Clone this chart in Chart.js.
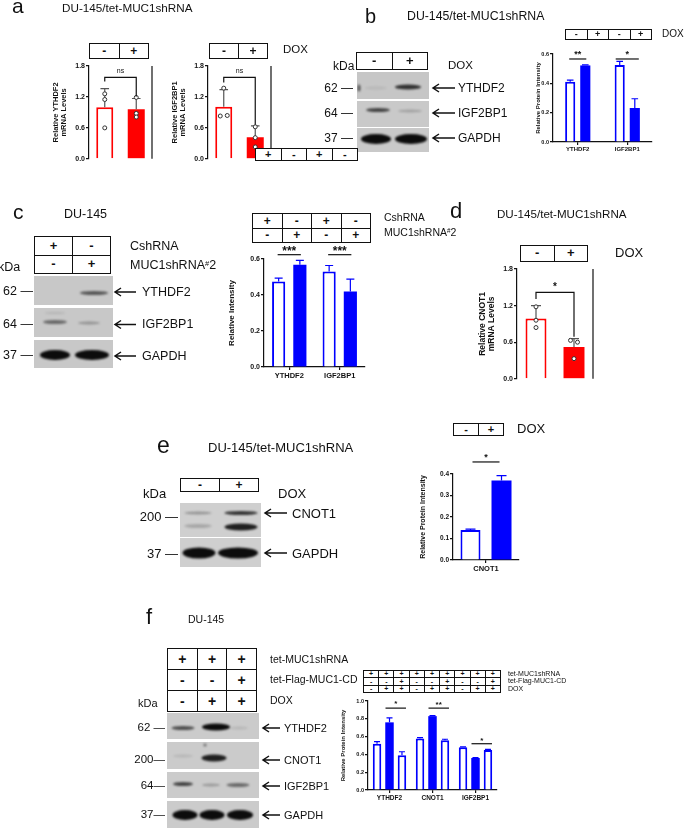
<!DOCTYPE html>
<html>
<head>
<meta charset="utf-8">
<script src="https://cdn.jsdelivr.net/npm/chart.js@4.4.0/dist/chart.umd.min.js"></script>
<style>
  body { margin: 0; background: #fff; }
  #fig { position: relative; width: 685px; height: 828px; overflow: hidden; font-family: Arial, "Liberation Sans", sans-serif; color: #111; background: #fff; }
  .t { position: absolute; white-space: nowrap; line-height: 1; }
  .t .sup { font-size: 60%; position: relative; top: -0.45em; }
  table.pm { position: absolute; border-collapse: collapse; table-layout: fixed; background: #fff; }
  table.pm td { border: 1px solid #111; text-align: center; vertical-align: middle; padding: 0; line-height: 0.5; font-weight: bold; overflow: hidden; }
</style>
</head>
<body>
<div id="fig"><canvas id="blots" width="685" height="828" style="position:absolute;left:0;top:0"></canvas></div>
<script>
// ---- data ----
const doxLabels = ['-', '+'];
const proteinLabels = ['YTHDF2', 'IGF2BP1'];
const cnot1Label = ['CNOT1'];
const fLabels = ['YTHDF2', 'CNOT1', 'IGF2BP1'];

// a: qPCR, relative mRNA (mean, SD, replicates)
const ythdf2Mrna = [1.0, 0.96];
const ythdf2MrnaSd = [0.36, 0.21];
const ythdf2MrnaPts = [[1.26, 1.15, 0.6], [1.19, 0.88, 0.81]];
const igf2bp1Mrna = [1.01, 0.42];
const igf2bp1MrnaSd = [0.33, 0.22];
const igf2bp1MrnaPts = [[1.37, 0.83, 0.84], [0.62, 0.41, 0.23]];

// b: protein, DOX - / +
const bNoDox = [0.41, 0.525];
const bNoDoxSd = [0.012, 0.025];
const bDox = [0.522, 0.232];
const bDoxSd = [0.004, 0.063];

// c: CshRNA vs MUC1shRNA#2
const cCsh = [0.475, 0.531];
const cCshSd = [0.019, 0.033];
const cMuc = [0.568, 0.419];
const cMucSd = [0.024, 0.069];

// d: CNOT1 mRNA
const cnot1Mrna = [0.99, 0.52];
const cnot1MrnaSd = [0.21, 0.14];
const cnot1MrnaPts = [[1.18, 0.96, 0.84], [0.63, 0.6, 0.33]];

// e: CNOT1 protein
const eNoDox = [0.14];
const eNoDoxSd = [0.004];
const eDox = [0.37];
const eDoxSd = [0.022];

// f: shRNA / shRNA+DOX / rescue
const fSh = [0.52, 0.58, 0.48];
const fShSd = [0.023, 0.008, 0.005];
const fShDox = [0.76, 0.83, 0.36];
const fShDoxSd = [0.05, 0.006, 0.005];
const fRescue = [0.39, 0.56, 0.45];
const fRescueSd = [0.04, 0.01, 0.006];

// condition grids
const bChartDox = [['-', '+', '-', '+']];
const aStrayRow = [['+', '-', '+', '-']];
const cConditions = [['+', '-'], ['-', '+']];
const cChartConditions = [['+', '-', '+', '-'], ['-', '+', '-', '+']];
const fConditions = [['+', '+', '+'], ['-', '-', '+'], ['-', '+', '+']];
const fChartConditions = [
  ['+', '+', '+', '+', '+', '+', '+', '+', '+'],
  ['-', '-', '+', '-', '-', '+', '-', '-', '+'],
  ['-', '+', '+', '-', '+', '+', '-', '+', '+']
];

// ---- helpers ----
const RED = '#ff0000', BLUE = '#0000ff', INK = '#111';
const FONT = "'Liberation Sans', Arial, sans-serif";
const fig = document.getElementById('fig');

function T(text, x, base, size, align, weight, html) {
  const d = document.createElement('div');
  d.className = 't';
  if (html) d.innerHTML = text; else d.textContent = text;
  d.style.fontSize = size + 'px';
  d.style.left = x + 'px';
  d.style.top = (base - 0.8465 * size) + 'px';
  if (weight) d.style.fontWeight = weight;
  if (align === 'right') d.style.transform = 'translateX(-100%)';
  if (align === 'center') d.style.transform = 'translateX(-50%)';
  fig.appendChild(d);
}

function pm(left, top, w, h, rows, size) {
  const t = document.createElement('table');
  t.className = 'pm';
  t.style.cssText += `left:${left}px;top:${top}px;width:${w}px;height:${h}px;font-size:${size}px`;
  rows.forEach(r => {
    const tr = t.insertRow();
    r.forEach(v => { const td = tr.insertCell(); td.textContent = v; td.style.height = (h / rows.length) + 'px'; });
  });
  fig.appendChild(t);
}

function jitter(vals) {
  return vals.map((v, k) => {
    const j = vals.findIndex((w, m) => m !== k && Math.abs(w - v) < 0.05);
    return j < 0 ? 0 : (k < j ? -3.5 : 3.5);
  });
}

function makeExtras(o) {
  return {
    id: 'extras',
    afterDatasetsDraw(chart) {
      const ctx = chart.ctx, y = chart.scales.y, area = chart.chartArea;
      ctx.save();
      ctx.lineCap = 'butt';
      (o.sd || []).forEach((sds, di) => {
        chart.getDatasetMeta(di).data.forEach((bar, i) => {
          const v = chart.data.datasets[di].data[i];
          const yt = y.getPixelForValue(v + sds[i]);
          ctx.strokeStyle = o.errColor; ctx.lineWidth = 1.2;
          ctx.beginPath();
          ctx.moveTo(bar.x, bar.y); ctx.lineTo(bar.x, yt);
          ctx.moveTo(bar.x - o.cap, yt); ctx.lineTo(bar.x + o.cap, yt);
          ctx.stroke();
        });
      });
      (o.pts || []).forEach((perBar, di) => {
        chart.getDatasetMeta(di).data.forEach((bar, i) => {
          const vals = perBar[i], dx = jitter(vals);
          vals.forEach((v, k) => {
            ctx.beginPath();
            ctx.arc(bar.x + dx[k], y.getPixelForValue(v), 2, 0, Math.PI * 2);
            ctx.fillStyle = '#fff'; ctx.fill();
            ctx.strokeStyle = '#333'; ctx.lineWidth = 1; ctx.stroke();
          });
        });
      });
      (o.sig || []).forEach(s => {
        const p1 = chart.getDatasetMeta(s.from[0]).data[s.from[1]];
        const p2 = chart.getDatasetMeta(s.to[0]).data[s.to[1]];
        const yl = y.getPixelForValue(s.y);
        ctx.strokeStyle = INK; ctx.lineWidth = 1.2;
        ctx.beginPath();
        if (s.legs) {
          ctx.moveTo(p1.x, y.getPixelForValue(s.legs[0]));
          ctx.lineTo(p1.x, yl); ctx.lineTo(p2.x, yl);
          ctx.lineTo(p2.x, y.getPixelForValue(s.legs[1]));
        } else {
          ctx.moveTo(p1.x - (s.ext || 1), yl); ctx.lineTo(p2.x + (s.ext || 1), yl);
        }
        ctx.stroke();
        ctx.fillStyle = INK;
        ctx.font = `${s.weight || 'bold'} ${s.size}px ${FONT}`;
        ctx.textAlign = 'center'; ctx.textBaseline = 'alphabetic';
        ctx.fillText(s.text, (p1.x + p2.x) / 2, yl - s.gap);
      });
      if (o.rightLine) {
        ctx.strokeStyle = INK; ctx.lineWidth = 1.2;
        ctx.beginPath(); ctx.moveTo(area.right, area.top); ctx.lineTo(area.right, area.bottom); ctx.stroke();
      }
      ctx.restore();
    }
  };
}

function barChart(p) {
  const padR = p.padR || 3;
  const w = p.yW + (p.r - p.l) + padR;
  const h = p.padT + (p.b - p.t) + (p.xH || p.padB);
  const c = document.createElement('canvas');
  c.width = w; c.height = h;
  c.style.cssText = `position:absolute;left:${p.l - p.yW}px;top:${p.t - p.padT}px;width:${w}px;height:${h}px`;
  fig.appendChild(c);
  new Chart(c, {
    type: 'bar',
    data: { labels: p.labels, datasets: p.datasets },
    options: {
      responsive: false, animation: false, devicePixelRatio: 1,
      layout: { padding: { top: p.padT, right: padR, bottom: p.xH ? 0 : p.padB, left: 0 } },
      datasets: { bar: { categoryPercentage: p.cat, barPercentage: p.bar } },
      plugins: { legend: { display: false }, tooltip: { enabled: false } },
      scales: {
        x: {
          display: !!p.xH, offset: true,
          grid: { offset: false, drawOnChartArea: false, tickLength: 3, color: INK, lineWidth: 1.2 },
          border: { color: INK, width: 1.2 },
          ticks: { font: { family: FONT, size: p.xFont, weight: 'bold' }, color: INK, padding: 1, maxRotation: 0, autoSkip: false },
          afterFit: s => { s.height = p.xH || 0; }
        },
        y: {
          min: 0, max: p.max,
          ticks: { stepSize: p.step, font: { family: FONT, size: p.tickFont, weight: 'bold' }, color: INK, padding: 1, callback: v => v.toFixed(1) },
          grid: { drawOnChartArea: false, tickLength: 3, color: INK, lineWidth: 1.2 },
          border: { color: INK, width: 1.2 },
          title: { display: true, text: p.title, font: { family: FONT, size: p.titleFont, weight: 'bold', lineHeight: 1.1 }, color: INK, padding: { top: p.titlePad, bottom: 0 } },
          afterFit: s => { s.width = p.yW; }
        }
      }
    },
    plugins: [makeExtras(p.extras)]
  });
}

const hollow = (data, color) => ({ data, backgroundColor: '#fff', borderColor: color, borderWidth: 2 });
const solid = (data, color) => ({ data, backgroundColor: color, borderColor: color, borderWidth: 0 });
const pair = data => ({ data, backgroundColor: ['#fff', RED], borderColor: RED, borderWidth: [2, 0] });

// ---- western blots (drawn decoration) ----
const blots = [
  // b
  { x: 357, y: 72, w: 72, h: 27, bg: '#c6c6c6', bands: [[408, 87, 26, 5, 0.8], [359, 88, 3, 7, 0.6], [376, 88, 22, 3, 0.08]] },
  { x: 357, y: 101, w: 72, h: 26, bg: '#c9c9c9', bands: [[378, 110, 24, 4, 0.7], [410, 111, 24, 3, 0.2]] },
  { x: 357, y: 128, w: 72, h: 24, bg: '#c9c9c9', bands: [[376, 139, 30, 10, 1], [411, 139, 32, 10, 1]] },
  // c
  { x: 34, y: 276, w: 79, h: 29, bg: '#c8c8c8', bands: [[94, 293, 28, 4, 0.6]] },
  { x: 34, y: 308, w: 79, h: 29, bg: '#c8c8c8', bands: [[55, 322, 24, 4, 0.5], [89, 323, 22, 3, 0.28], [55, 313, 20, 2, 0.1]] },
  { x: 34, y: 340, w: 79, h: 28, bg: '#c8c8c8', bands: [[55, 355, 30, 10, 1], [92, 355, 34, 10, 1]] },
  // e
  { x: 180, y: 503, w: 81, h: 34, bg: '#cfcfcf', bands: [[198, 513, 27, 3, 0.3], [198, 526, 27, 4, 0.2], [241, 513, 33, 4, 0.8], [241, 527, 33, 7, 0.9]] },
  { x: 180, y: 538, w: 81, h: 29, bg: '#cfcfcf', bands: [[199, 553, 33, 11, 1], [238, 553, 40, 11, 1]] },
  // f
  { x: 167, y: 713, w: 92, h: 26, bg: '#cbcbcb', bands: [[183, 728, 23, 4, 0.65], [216, 727, 28, 7, 1], [239, 728, 18, 3, 0.1]] },
  { x: 167, y: 742, w: 92, h: 27, bg: '#cbcbcb', bands: [[214, 758, 25, 7, 0.9], [183, 756, 20, 3, 0.1], [205, 745, 3, 3, 0.5]] },
  { x: 167, y: 772, w: 92, h: 26, bg: '#cbcbcb', bands: [[183, 784, 20, 4, 0.7], [211, 785, 18, 3, 0.25], [238, 785, 23, 4, 0.5]] },
  { x: 167, y: 801, w: 92, h: 27, bg: '#cbcbcb', bands: [[185, 815, 25, 10, 1], [212, 815, 25, 10, 1], [240, 815, 26, 10, 1]] }
];
const arrows = [
  [433, 455, 88], [433, 455, 113], [433, 455, 138],
  [115, 136, 292], [115, 136, 324.5], [115, 136, 356],
  [265, 287, 513], [265, 287, 553],
  [263, 280, 728], [263, 280, 760], [263, 280, 786], [263, 280, 815]
];

const g = document.getElementById('blots').getContext('2d');
blots.forEach(s => {
  g.fillStyle = s.bg;
  g.fillRect(s.x, s.y, s.w, s.h);
  g.save();
  g.beginPath(); g.rect(s.x, s.y, s.w, s.h); g.clip();
  g.filter = 'blur(1.2px)';
  s.bands.forEach(([cx, cy, w, h, a]) => {
    g.fillStyle = `rgba(12,12,12,${a})`;
    g.beginPath(); g.ellipse(cx, cy, w / 2, h / 2, 0, 0, Math.PI * 2); g.fill();
  });
  g.restore();
});
g.strokeStyle = INK; g.lineWidth = 1.5;
arrows.forEach(([x1, x2, y]) => {
  g.beginPath();
  g.moveTo(x1 + 1, y); g.lineTo(x2, y);
  g.moveTo(x1 + 6, y - 4); g.lineTo(x1, y); g.lineTo(x1 + 6, y + 4);
  g.stroke();
});

// ---- charts ----
// a, YTHDF2 mRNA
barChart({
  l: 89, r: 152, t: 66, b: 160, yW: 40, padT: 6, padB: 4,
  labels: doxLabels, datasets: [pair(ythdf2Mrna)], cat: 0.6, bar: 0.9,
  max: 1.8, step: 0.6, tickFont: 7, title: ['Relative YTHDF2', 'mRNA Levels'], titleFont: 7.5, titlePad: 3,
  extras: { sd: [ythdf2MrnaSd], errColor: '#555', cap: 4.3, pts: [ythdf2MrnaPts], rightLine: true,
    sig: [{ from: [0, 0], to: [0, 1], y: 1.58, legs: [1.5, 1.21], text: 'ns', size: 7, weight: 'normal', gap: 4.3 }] }
});
// a, IGF2BP1 mRNA
barChart({
  l: 208, r: 271, t: 66, b: 160, yW: 40, padT: 6, padB: 4,
  labels: doxLabels, datasets: [pair(igf2bp1Mrna)], cat: 0.6, bar: 0.9,
  max: 1.8, step: 0.6, tickFont: 7, title: ['Relative IGF2BP1', 'mRNA Levels'], titleFont: 7.5, titlePad: 3,
  extras: { sd: [igf2bp1MrnaSd], errColor: '#555', cap: 4.3, pts: [igf2bp1MrnaPts], rightLine: true,
    sig: [{ from: [0, 0], to: [0, 1], y: 1.58, legs: [1.48, 0.66], text: 'ns', size: 7, weight: 'normal', gap: 4.3 }] }
});
// b
barChart({
  l: 553, r: 652, t: 54, b: 142, yW: 18, padT: 8, xH: 14,
  labels: proteinLabels, datasets: [hollow(bNoDox, BLUE), solid(bDox, BLUE)], cat: 0.61, bar: 0.67,
  max: 0.6, step: 0.2, tickFont: 5.5, xFont: 6, title: 'Relative Protein Intensity', titleFont: 6, titlePad: 0,
  extras: { sd: [bNoDoxSd, bDoxSd], errColor: BLUE, cap: 3.3,
    sig: [{ from: [0, 0], to: [1, 0], y: 0.566, text: '**', size: 9, gap: 1.9 },
          { from: [0, 1], to: [1, 1], y: 0.566, text: '*', size: 9, gap: 1.9, ext: 4 }] }
});
// c
barChart({
  l: 264, r: 365, t: 259, b: 367, yW: 38, padT: 18, xH: 16,
  labels: proteinLabels, datasets: [hollow(cCsh, BLUE), solid(cMuc, BLUE)], cat: 0.84, bar: 0.62,
  max: 0.6, step: 0.2, tickFont: 7, xFont: 7.5, title: 'Relative Intensity', titleFont: 8, titlePad: 1.5,
  extras: { sd: [cCshSd, cMucSd], errColor: BLUE, cap: 4,
    sig: [{ from: [0, 0], to: [1, 0], y: 0.624, text: '***', size: 12, gap: -0.8 },
          { from: [0, 1], to: [1, 1], y: 0.624, text: '***', size: 12, gap: -0.8 }] }
});
// d
barChart({
  l: 517, r: 593, t: 269, b: 380, yW: 40, padT: 6, padB: 4,
  labels: doxLabels, datasets: [pair(cnot1Mrna)], cat: 0.6, bar: 0.92,
  max: 1.8, step: 0.6, tickFont: 7, title: ['Relative CNOT1', 'mRNA Levels'], titleFont: 8.5, titlePad: 1,
  extras: { sd: [cnot1MrnaSd], errColor: '#555', cap: 5, pts: [cnot1MrnaPts], rightLine: true,
    sig: [{ from: [0, 0], to: [0, 1], y: 1.416, legs: [1.31, 0.69], text: '*', size: 10, gap: 2 }] }
});
// e
barChart({
  l: 453, r: 519, t: 474, b: 560, yW: 36, padT: 26, xH: 16,
  labels: cnot1Label, datasets: [hollow(eNoDox, BLUE), solid(eDox, BLUE)], cat: 0.94, bar: 0.645,
  max: 0.4, step: 0.1, tickFont: 6.5, xFont: 7.5, title: 'Relative Protein Intensity', titleFont: 7, titlePad: 2,
  extras: { sd: [eNoDoxSd, eDoxSd], errColor: BLUE, cap: 5,
    sig: [{ from: [0, 0], to: [1, 0], y: 0.456, text: '*', size: 9, gap: 2.2, ext: -2 }] }
});
// f
barChart({
  l: 368, r: 497, t: 701, b: 790, yW: 28, padT: 6, xH: 13,
  labels: fLabels, datasets: [hollow(fSh, BLUE), solid(fShDox, BLUE), hollow(fRescue, BLUE)], cat: 0.87, bar: 0.68,
  max: 1.0, step: 0.2, tickFont: 5.5, xFont: 6.5, title: 'Relative Protein Intensity', titleFont: 6, titlePad: 0,
  extras: { sd: [fShSd, fShDoxSd, fRescueSd], errColor: BLUE, cap: 3,
    sig: [{ from: [1, 0], to: [2, 0], y: 0.92, text: '*', size: 8, gap: 1.7, ext: 4 },
          { from: [1, 1], to: [2, 1], y: 0.92, text: '**', size: 8, gap: 1.4, ext: 4 },
          { from: [1, 2], to: [2, 2], y: 0.52, text: '*', size: 8, gap: 1.2, ext: 4 }] }
});

// ---- condition boxes ----
pm(89, 43, 60, 14, [doxLabels], 12);
pm(209, 43, 59, 14, [doxLabels], 12);
pm(255, 148, 103, 11, aStrayRow, 11);
pm(356, 52, 72, 16, [doxLabels], 13);
pm(565, 29, 87, 9, bChartDox, 9);
pm(34, 236, 77, 35, cConditions, 13);
pm(252, 213, 119, 27, cChartConditions, 12);
pm(520, 245, 68, 15, [doxLabels], 13);
pm(180, 478, 79, 12, [doxLabels], 12);
pm(453, 423, 51, 11, [doxLabels], 11);
pm(167, 648, 90, 60, fConditions, 14);
pm(363, 670, 138, 19, fChartConditions, 7);

// ---- text ----
const texts = [
  ['a', 12, 12.5, 21], ['DU-145/tet-MUC1shRNA', 62, 11.5, 11.7], ['DOX', 283, 54, 11.5],
  ['b', 365, 22.5, 20], ['DU-145/tet-MUC1shRNA', 407, 20.5, 12.3], ['DOX', 662, 37, 10],
  ['kDa', 333, 70, 12], ['DOX', 448, 70, 11.5],
  ['62 —', 353, 92.3, 12, 'right'], ['64 —', 353, 117, 12, 'right'], ['37 —', 353, 142.3, 12, 'right'],
  ['YTHDF2', 458, 92.6, 12], ['IGF2BP1', 458, 117.5, 12], ['GAPDH', 458, 142.6, 12],
  ['c', 13, 219, 21], ['DU-145', 64, 218.3, 12.5], ['CshRNA', 130, 251, 12.5],
  ['MUC1shRNA<span class="sup">#</span>2', 130, 270, 12.5, null, null, true], ['kDa', -2, 272, 12.5],
  ['62 —', 33, 296, 12.5, 'right'], ['64 —', 33, 328.6, 12.5, 'right'], ['37 —', 33, 360, 12.5, 'right'],
  ['YTHDF2', 142, 296.5, 12.5], ['IGF2BP1', 142, 329, 12.5], ['GAPDH', 142, 360.5, 12.5],
  ['CshRNA', 384, 220.7, 10.5], ['MUC1shRNA<span class="sup">#</span>2', 384, 236, 10.5, null, null, true],
  ['d', 450, 219, 22], ['DU-145/tet-MUC1shRNA', 497, 217.7, 11.6], ['DOX', 615, 257.3, 13],
  ['e', 157, 453, 23], ['DU-145/tet-MUC1shRNA', 208, 451.7, 13],
  ['kDa', 143, 498, 13], ['DOX', 278, 498, 13],
  ['200 —', 178, 520.6, 13, 'right'], ['37 —', 178, 557.6, 13, 'right'],
  ['CNOT1', 292, 517.6, 13], ['GAPDH', 292, 557.6, 13], ['DOX', 517, 433, 13],
  ['f', 146, 624.5, 22], ['DU-145', 188, 623, 10.5],
  ['tet-MUC1shRNA', 270, 662.7, 10.5], ['tet-Flag-MUC1-CD', 270, 682.7, 10.5], ['DOX', 270, 704, 10.5],
  ['kDa', 138, 707, 11],
  ['62  —', 165, 732, 11.5, 'right'], ['200—', 165, 764, 11.5, 'right'], ['64—', 165, 790, 11.5, 'right'], ['37—', 165, 819, 11.5, 'right'],
  ['YTHDF2', 284, 732, 11], ['CNOT1', 284, 764, 11], ['IGF2BP1', 284, 790, 11], ['GAPDH', 284, 819, 11],
  ['tet-MUC1shRNA', 508, 676, 7], ['tet-Flag-MUC1-CD', 508, 683, 7], ['DOX', 508, 690.7, 7]
];
texts.forEach(a => T(...a));
</script>
</body>
</html>
